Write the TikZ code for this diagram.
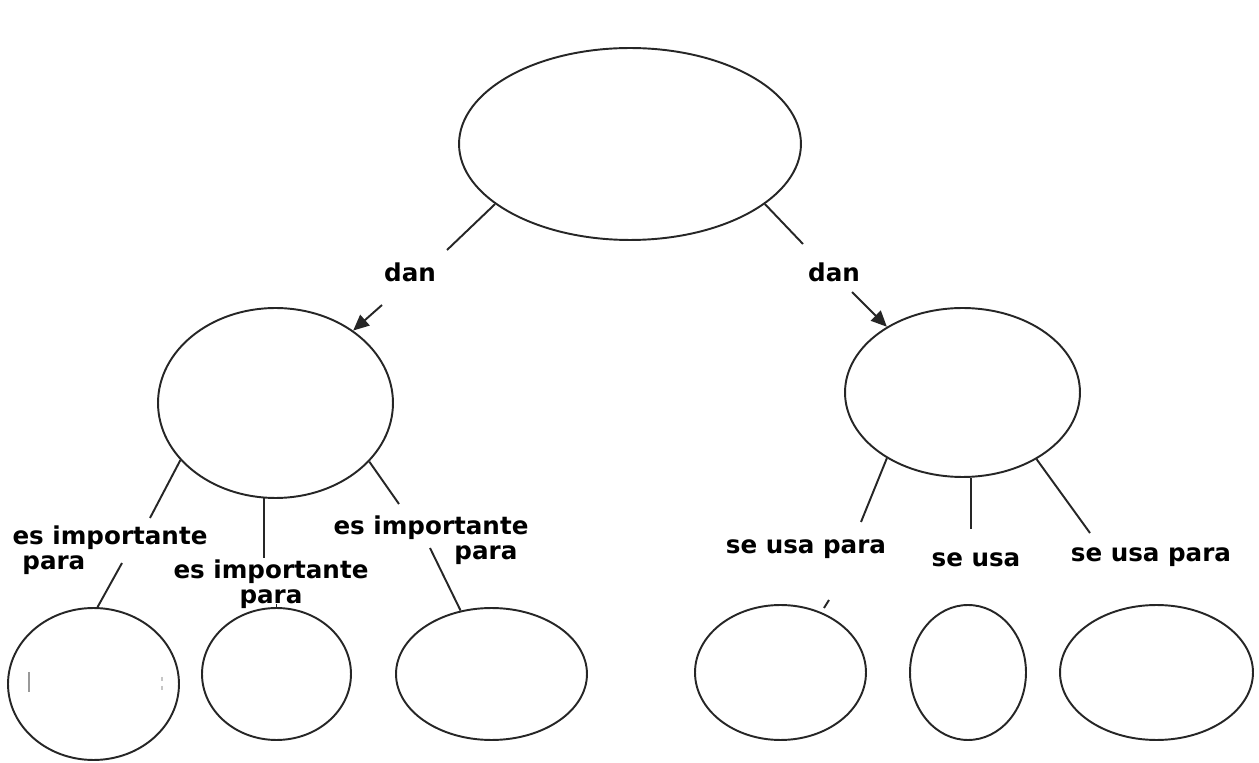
\documentclass[tikz,border=0pt]{standalone}
\usepackage{fontspec}
\setmainfont{DejaVu Sans}
\usetikzlibrary{shapes.geometric,arrows.meta}
\definecolor{ink}{HTML}{262626}
\begin{document}
\begin{tikzpicture}[x=0.02cm,y=-0.02cm,
  bubble/.style={ellipse,draw=ink,line width=1.1pt,inner sep=0pt},
  lbl/.style={font=\fontsize{14}{14}\selectfont\bfseries,inner sep=0pt,text=black},
  link/.style={draw=ink,line width=1.1pt},
  arr/.style={link,-{Triangle[length=9pt,width=8pt]}}]
\useasboundingbox (0,0) rectangle (1259,763);

% concept bubbles
\node[bubble,minimum width=6.84cm,minimum height=3.84cm] (top) at (630,144) {};
\node[bubble,minimum width=4.70cm,minimum height=3.80cm] (lm) at (275.5,403) {};
\node[bubble,minimum width=4.70cm,minimum height=3.38cm] (rm) at (962.5,392.5) {};
\node[bubble,minimum width=3.42cm,minimum height=3.04cm] (b1) at (93.5,684) {};
\node[bubble,minimum width=2.98cm,minimum height=2.64cm] (b2) at (276.5,674) {};
\node[bubble,minimum width=3.82cm,minimum height=2.64cm] (b3) at (491.5,674) {};
\node[bubble,minimum width=3.42cm,minimum height=2.70cm] (b4) at (780.5,672.5) {};
\node[bubble,minimum width=2.32cm,minimum height=2.70cm] (b5) at (968,672.5) {};
\node[bubble,minimum width=3.86cm,minimum height=2.70cm] (b6) at (1156.5,672.5) {};

% link words
\node[lbl] (danl) at (410,272) {dan};
\node[lbl] (danr) at (834,272) {dan};
\node[lbl,align=left] (imp1) at (110,550) {es importante\\\hspace*{0.4em}para};
\node[lbl,align=center] (imp2) at (271,584) {es importante\\para};
\node[lbl,align=right] (imp3) at (431,540) {es importante\\para\hspace*{0.45em}};
\node[lbl] (uso1) at (806,549) {se usa para};
\node[lbl] (uso2) at (976,560) {se usa};
\node[lbl] (uso3) at (1151,557) {se usa para};

% break points around the link words
\coordinate (d1a) at (447,250);
\coordinate (d1b) at (382,305);
\coordinate (d2a) at (803,244);
\coordinate (d2b) at (852,292);
\coordinate (e1a) at (150,518);
\coordinate (e1b) at (122,563);
\coordinate (e2a) at (265,558);
\coordinate (e2b) at (276.5,604);
\coordinate (e3a) at (399,504);
\coordinate (e3b) at (430,548);
\coordinate (f1a) at (861,522);
\coordinate (f1b) at (829,600);
\coordinate (f1c) at (824,608);
\coordinate (f2a) at (972,529);
\coordinate (f3a) at (1090,533);

% top level
\draw[link] (top.204) -- (d1a);
\draw[arr] (d1b) -- (lm.43.3);
\draw[link] (top.336.4) -- (d2a);
\draw[arr] (d2b) -- (rm.139.1);

% left branch
\draw[link] (lm.211.2) -- (e1a);
\draw[link] (e1b) -- (b1.87.4);
\draw[link] (lm.263.6) -- (lm.263.6 |- e2a);
\draw[link] (e2b) -- (b2.north);
\draw[link] (lm.328.8) -- (e3a);
\draw[link] (e3b) -- (b3.116.2);

% right branch
\draw[link] (rm.221.5) -- (f1a);
\draw[link] (f1b) -- (f1c);
\draw[link] (rm.276.3) -- (rm.276.3 |- f2a);
\draw[link] (rm.318.9) -- (f3a);

% stray marks inside the first bubble
\draw[gray!80,line width=0.8pt] (29,672) -- (29,692);
\draw[gray!45,line width=0.8pt] (162,677) -- (162,681) (162,686) -- (162,690);
\end{tikzpicture}
\end{document}
